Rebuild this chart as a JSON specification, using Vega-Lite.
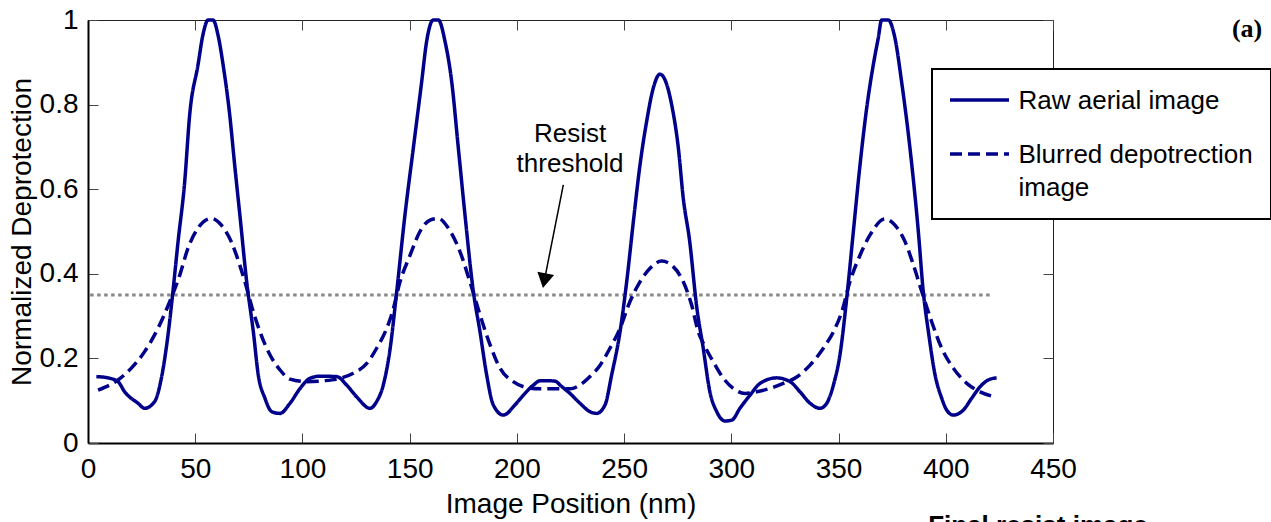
{
  "$schema": "https://vega.github.io/schema/vega-lite/v6.json",
  "width": 965,
  "height": 423,
  "autosize": {"type": "none"},
  "padding": {"left": 88, "top": 20, "right": 218, "bottom": 79},
  "background": "white",
  "config": {
    "view": {"stroke": "#222", "strokeWidth": 1},
    "font": "Liberation Sans",
    "axis": {
      "grid": false,
      "labelFont": "Liberation Sans",
      "labelFontSize": 28,
      "labelColor": "black",
      "labelFlush": false,
      "titleFont": "Liberation Sans",
      "titleFontSize": 28,
      "titleFontWeight": "normal",
      "titleColor": "black",
      "tickColor": "#444",
      "tickWidth": 1,
      "tickSize": -10,
      "domainColor": "black",
      "domainWidth": 2
    },
    "legend": {
      "orient": "none",
      "legendX": 844,
      "legendY": 49,
      "title": null,
      "labelFont": "Liberation Sans",
      "labelFontSize": 26,
      "labelColor": "black",
      "labelLimit": 400,
      "labelOffset": 26,
      "labelBaseline": "alphabetic",
      "symbolType": "M-2.95,0L2.95,0",
      "symbolSize": 400,
      "symbolOffset": 16.5,
      "symbolStrokeWidth": 3.5,
      "symbolStrokeColor": "#00008B",
      "strokeColor": "black",
      "strokeWidth": 2,
      "fillColor": "white",
      "padding": 18,
      "rowPadding": 27,
      "cornerRadius": 0
    }
  },
  "resolve": {"axis": {"x": "independent", "y": "independent"}},
  "layer": [
    {
      "data": {"values": [{}]},
      "mark": {"type": "rule", "color": "#888888", "strokeWidth": 3, "strokeDash": [3.5, 3.5]},
      "encoding": {
        "x": {"datum": 1, "type": "quantitative", "scale": {"domain": [0, 450], "nice": false},
              "axis": {"orient": "top", "labels": false, "title": null, "domain": false, "values": [0, 50, 100, 150, 200, 250, 300, 350, 400, 450]}},
        "x2": {"datum": 421},
        "y": {"datum": 0.35, "type": "quantitative", "scale": {"domain": [0, 1], "nice": false},
              "axis": {"orient": "right", "labels": false, "title": null, "domain": false, "values": [0, 0.2, 0.4, 0.6, 0.8, 1]}}
      }
    },
    {
      "data": {
        "values": [
          {"x": 3.9, "y": 0.157, "series": "Raw aerial image"},
          {"x": 9.3, "y": 0.154, "series": "Raw aerial image"},
          {"x": 14, "y": 0.145, "series": "Raw aerial image"},
          {"x": 17.1, "y": 0.121, "series": "Raw aerial image"},
          {"x": 23.3, "y": 0.094, "series": "Raw aerial image"},
          {"x": 26.4, "y": 0.082, "series": "Raw aerial image"},
          {"x": 31.1, "y": 0.098, "series": "Raw aerial image"},
          {"x": 34.2, "y": 0.153, "series": "Raw aerial image"},
          {"x": 37.3, "y": 0.255, "series": "Raw aerial image"},
          {"x": 39.6, "y": 0.358, "series": "Raw aerial image"},
          {"x": 42, "y": 0.476, "series": "Raw aerial image"},
          {"x": 45.1, "y": 0.618, "series": "Raw aerial image"},
          {"x": 47.4, "y": 0.775, "series": "Raw aerial image"},
          {"x": 51.3, "y": 0.894, "series": "Raw aerial image"},
          {"x": 53.6, "y": 0.965, "series": "Raw aerial image"},
          {"x": 56, "y": 1.0, "series": "Raw aerial image"},
          {"x": 58.3, "y": 1.0, "series": "Raw aerial image"},
          {"x": 60.6, "y": 0.965, "series": "Raw aerial image"},
          {"x": 63, "y": 0.894, "series": "Raw aerial image"},
          {"x": 66.1, "y": 0.775, "series": "Raw aerial image"},
          {"x": 68.4, "y": 0.657, "series": "Raw aerial image"},
          {"x": 71, "y": 0.53, "series": "Raw aerial image"},
          {"x": 74, "y": 0.381, "series": "Raw aerial image"},
          {"x": 77.1, "y": 0.263, "series": "Raw aerial image"},
          {"x": 79.4, "y": 0.161, "series": "Raw aerial image"},
          {"x": 82.5, "y": 0.106, "series": "Raw aerial image"},
          {"x": 85.7, "y": 0.074, "series": "Raw aerial image"},
          {"x": 89.5, "y": 0.07, "series": "Raw aerial image"},
          {"x": 94.2, "y": 0.094, "series": "Raw aerial image"},
          {"x": 98.9, "y": 0.129, "series": "Raw aerial image"},
          {"x": 103.5, "y": 0.153, "series": "Raw aerial image"},
          {"x": 108.2, "y": 0.158, "series": "Raw aerial image"},
          {"x": 116, "y": 0.157, "series": "Raw aerial image"},
          {"x": 120.6, "y": 0.137, "series": "Raw aerial image"},
          {"x": 125.3, "y": 0.109, "series": "Raw aerial image"},
          {"x": 131.5, "y": 0.082, "series": "Raw aerial image"},
          {"x": 134.6, "y": 0.098, "series": "Raw aerial image"},
          {"x": 137.7, "y": 0.137, "series": "Raw aerial image"},
          {"x": 140.8, "y": 0.22, "series": "Raw aerial image"},
          {"x": 144, "y": 0.36, "series": "Raw aerial image"},
          {"x": 147.8, "y": 0.539, "series": "Raw aerial image"},
          {"x": 151.7, "y": 0.697, "series": "Raw aerial image"},
          {"x": 155.6, "y": 0.854, "series": "Raw aerial image"},
          {"x": 157.9, "y": 0.949, "series": "Raw aerial image"},
          {"x": 161, "y": 1.0, "series": "Raw aerial image"},
          {"x": 163.4, "y": 1.0, "series": "Raw aerial image"},
          {"x": 166.5, "y": 0.949, "series": "Raw aerial image"},
          {"x": 169.6, "y": 0.854, "series": "Raw aerial image"},
          {"x": 172.7, "y": 0.697, "series": "Raw aerial image"},
          {"x": 175.8, "y": 0.539, "series": "Raw aerial image"},
          {"x": 179.7, "y": 0.358, "series": "Raw aerial image"},
          {"x": 182.8, "y": 0.263, "series": "Raw aerial image"},
          {"x": 185.9, "y": 0.161, "series": "Raw aerial image"},
          {"x": 189, "y": 0.09, "series": "Raw aerial image"},
          {"x": 193.7, "y": 0.066, "series": "Raw aerial image"},
          {"x": 199.1, "y": 0.09, "series": "Raw aerial image"},
          {"x": 203, "y": 0.113, "series": "Raw aerial image"},
          {"x": 207.7, "y": 0.137, "series": "Raw aerial image"},
          {"x": 210.8, "y": 0.147, "series": "Raw aerial image"},
          {"x": 215.4, "y": 0.147, "series": "Raw aerial image"},
          {"x": 218, "y": 0.146, "series": "Raw aerial image"},
          {"x": 220.1, "y": 0.137, "series": "Raw aerial image"},
          {"x": 224.8, "y": 0.117, "series": "Raw aerial image"},
          {"x": 229.4, "y": 0.094, "series": "Raw aerial image"},
          {"x": 234.1, "y": 0.074, "series": "Raw aerial image"},
          {"x": 237.2, "y": 0.07, "series": "Raw aerial image"},
          {"x": 241.1, "y": 0.09, "series": "Raw aerial image"},
          {"x": 244.2, "y": 0.161, "series": "Raw aerial image"},
          {"x": 248.1, "y": 0.263, "series": "Raw aerial image"},
          {"x": 251.2, "y": 0.381, "series": "Raw aerial image"},
          {"x": 254.3, "y": 0.523, "series": "Raw aerial image"},
          {"x": 257.4, "y": 0.657, "series": "Raw aerial image"},
          {"x": 260.5, "y": 0.76, "series": "Raw aerial image"},
          {"x": 263.6, "y": 0.839, "series": "Raw aerial image"},
          {"x": 266.7, "y": 0.872, "series": "Raw aerial image"},
          {"x": 269.1, "y": 0.858, "series": "Raw aerial image"},
          {"x": 272.2, "y": 0.799, "series": "Raw aerial image"},
          {"x": 275.3, "y": 0.697, "series": "Raw aerial image"},
          {"x": 277.6, "y": 0.578, "series": "Raw aerial image"},
          {"x": 280.5, "y": 0.48, "series": "Raw aerial image"},
          {"x": 283.9, "y": 0.32, "series": "Raw aerial image"},
          {"x": 286.9, "y": 0.224, "series": "Raw aerial image"},
          {"x": 290, "y": 0.121, "series": "Raw aerial image"},
          {"x": 293.2, "y": 0.074, "series": "Raw aerial image"},
          {"x": 297, "y": 0.052, "series": "Raw aerial image"},
          {"x": 300.2, "y": 0.054, "series": "Raw aerial image"},
          {"x": 304, "y": 0.082, "series": "Raw aerial image"},
          {"x": 308.7, "y": 0.113, "series": "Raw aerial image"},
          {"x": 313.4, "y": 0.141, "series": "Raw aerial image"},
          {"x": 321.1, "y": 0.154, "series": "Raw aerial image"},
          {"x": 327.4, "y": 0.145, "series": "Raw aerial image"},
          {"x": 332, "y": 0.121, "series": "Raw aerial image"},
          {"x": 336.7, "y": 0.094, "series": "Raw aerial image"},
          {"x": 341.4, "y": 0.082, "series": "Raw aerial image"},
          {"x": 344.5, "y": 0.094, "series": "Raw aerial image"},
          {"x": 347.6, "y": 0.137, "series": "Raw aerial image"},
          {"x": 350.7, "y": 0.21, "series": "Raw aerial image"},
          {"x": 353.8, "y": 0.342, "series": "Raw aerial image"},
          {"x": 356.9, "y": 0.5, "series": "Raw aerial image"},
          {"x": 360, "y": 0.657, "series": "Raw aerial image"},
          {"x": 363.1, "y": 0.791, "series": "Raw aerial image"},
          {"x": 366.2, "y": 0.894, "series": "Raw aerial image"},
          {"x": 368.5, "y": 0.957, "series": "Raw aerial image"},
          {"x": 370.1, "y": 1.0, "series": "Raw aerial image"},
          {"x": 373.2, "y": 1.0, "series": "Raw aerial image"},
          {"x": 376.3, "y": 0.957, "series": "Raw aerial image"},
          {"x": 379.4, "y": 0.854, "series": "Raw aerial image"},
          {"x": 383.3, "y": 0.697, "series": "Raw aerial image"},
          {"x": 387.2, "y": 0.5, "series": "Raw aerial image"},
          {"x": 389.5, "y": 0.358, "series": "Raw aerial image"},
          {"x": 391.9, "y": 0.263, "series": "Raw aerial image"},
          {"x": 395, "y": 0.161, "series": "Raw aerial image"},
          {"x": 398.1, "y": 0.106, "series": "Raw aerial image"},
          {"x": 400.4, "y": 0.078, "series": "Raw aerial image"},
          {"x": 403.5, "y": 0.066, "series": "Raw aerial image"},
          {"x": 408.2, "y": 0.078, "series": "Raw aerial image"},
          {"x": 412.1, "y": 0.106, "series": "Raw aerial image"},
          {"x": 416, "y": 0.133, "series": "Raw aerial image"},
          {"x": 419.8, "y": 0.149, "series": "Raw aerial image"},
          {"x": 423.7, "y": 0.154, "series": "Raw aerial image"},
          {"x": 4.7, "y": 0.125, "series": "Blurred depotrection image"},
          {"x": 14, "y": 0.149, "series": "Blurred depotrection image"},
          {"x": 20.2, "y": 0.177, "series": "Blurred depotrection image"},
          {"x": 26.4, "y": 0.216, "series": "Blurred depotrection image"},
          {"x": 32.6, "y": 0.271, "series": "Blurred depotrection image"},
          {"x": 38.1, "y": 0.334, "series": "Blurred depotrection image"},
          {"x": 42.8, "y": 0.397, "series": "Blurred depotrection image"},
          {"x": 46.6, "y": 0.46, "series": "Blurred depotrection image"},
          {"x": 51.3, "y": 0.508, "series": "Blurred depotrection image"},
          {"x": 57.5, "y": 0.531, "series": "Blurred depotrection image"},
          {"x": 62.2, "y": 0.515, "series": "Blurred depotrection image"},
          {"x": 66.8, "y": 0.476, "series": "Blurred depotrection image"},
          {"x": 70.8, "y": 0.42, "series": "Blurred depotrection image"},
          {"x": 73.8, "y": 0.37, "series": "Blurred depotrection image"},
          {"x": 76.5, "y": 0.32, "series": "Blurred depotrection image"},
          {"x": 80.2, "y": 0.263, "series": "Blurred depotrection image"},
          {"x": 84.9, "y": 0.208, "series": "Blurred depotrection image"},
          {"x": 89.5, "y": 0.173, "series": "Blurred depotrection image"},
          {"x": 94.2, "y": 0.151, "series": "Blurred depotrection image"},
          {"x": 102, "y": 0.145, "series": "Blurred depotrection image"},
          {"x": 109.7, "y": 0.147, "series": "Blurred depotrection image"},
          {"x": 117.5, "y": 0.153, "series": "Blurred depotrection image"},
          {"x": 123.7, "y": 0.165, "series": "Blurred depotrection image"},
          {"x": 130, "y": 0.188, "series": "Blurred depotrection image"},
          {"x": 134.6, "y": 0.224, "series": "Blurred depotrection image"},
          {"x": 139.3, "y": 0.271, "series": "Blurred depotrection image"},
          {"x": 142, "y": 0.31, "series": "Blurred depotrection image"},
          {"x": 145.5, "y": 0.381, "series": "Blurred depotrection image"},
          {"x": 150.2, "y": 0.444, "series": "Blurred depotrection image"},
          {"x": 154.8, "y": 0.5, "series": "Blurred depotrection image"},
          {"x": 159.5, "y": 0.527, "series": "Blurred depotrection image"},
          {"x": 163.4, "y": 0.531, "series": "Blurred depotrection image"},
          {"x": 168, "y": 0.508, "series": "Blurred depotrection image"},
          {"x": 173.5, "y": 0.452, "series": "Blurred depotrection image"},
          {"x": 178.1, "y": 0.381, "series": "Blurred depotrection image"},
          {"x": 182.8, "y": 0.303, "series": "Blurred depotrection image"},
          {"x": 187.5, "y": 0.232, "series": "Blurred depotrection image"},
          {"x": 192.1, "y": 0.177, "series": "Blurred depotrection image"},
          {"x": 198.3, "y": 0.145, "series": "Blurred depotrection image"},
          {"x": 204.6, "y": 0.131, "series": "Blurred depotrection image"},
          {"x": 210.8, "y": 0.128, "series": "Blurred depotrection image"},
          {"x": 224.8, "y": 0.128, "series": "Blurred depotrection image"},
          {"x": 229.4, "y": 0.137, "series": "Blurred depotrection image"},
          {"x": 234.1, "y": 0.157, "series": "Blurred depotrection image"},
          {"x": 238.8, "y": 0.184, "series": "Blurred depotrection image"},
          {"x": 243.4, "y": 0.224, "series": "Blurred depotrection image"},
          {"x": 248.1, "y": 0.271, "series": "Blurred depotrection image"},
          {"x": 252.7, "y": 0.334, "series": "Blurred depotrection image"},
          {"x": 257.4, "y": 0.381, "series": "Blurred depotrection image"},
          {"x": 262.1, "y": 0.413, "series": "Blurred depotrection image"},
          {"x": 267.5, "y": 0.43, "series": "Blurred depotrection image"},
          {"x": 272.9, "y": 0.417, "series": "Blurred depotrection image"},
          {"x": 277.6, "y": 0.381, "series": "Blurred depotrection image"},
          {"x": 281.5, "y": 0.326, "series": "Blurred depotrection image"},
          {"x": 284.6, "y": 0.263, "series": "Blurred depotrection image"},
          {"x": 287.5, "y": 0.23, "series": "Blurred depotrection image"},
          {"x": 291.6, "y": 0.192, "series": "Blurred depotrection image"},
          {"x": 296.3, "y": 0.153, "series": "Blurred depotrection image"},
          {"x": 300.9, "y": 0.129, "series": "Blurred depotrection image"},
          {"x": 306.4, "y": 0.117, "series": "Blurred depotrection image"},
          {"x": 311.8, "y": 0.121, "series": "Blurred depotrection image"},
          {"x": 318, "y": 0.129, "series": "Blurred depotrection image"},
          {"x": 324.2, "y": 0.141, "series": "Blurred depotrection image"},
          {"x": 330.5, "y": 0.156, "series": "Blurred depotrection image"},
          {"x": 336.7, "y": 0.184, "series": "Blurred depotrection image"},
          {"x": 342.9, "y": 0.224, "series": "Blurred depotrection image"},
          {"x": 347.6, "y": 0.263, "series": "Blurred depotrection image"},
          {"x": 351.5, "y": 0.31, "series": "Blurred depotrection image"},
          {"x": 355.3, "y": 0.381, "series": "Blurred depotrection image"},
          {"x": 360, "y": 0.444, "series": "Blurred depotrection image"},
          {"x": 364.7, "y": 0.492, "series": "Blurred depotrection image"},
          {"x": 371.7, "y": 0.53, "series": "Blurred depotrection image"},
          {"x": 376.3, "y": 0.515, "series": "Blurred depotrection image"},
          {"x": 381, "y": 0.476, "series": "Blurred depotrection image"},
          {"x": 384.9, "y": 0.421, "series": "Blurred depotrection image"},
          {"x": 388.8, "y": 0.358, "series": "Blurred depotrection image"},
          {"x": 393.4, "y": 0.287, "series": "Blurred depotrection image"},
          {"x": 398.1, "y": 0.224, "series": "Blurred depotrection image"},
          {"x": 403.5, "y": 0.177, "series": "Blurred depotrection image"},
          {"x": 409.8, "y": 0.141, "series": "Blurred depotrection image"},
          {"x": 416, "y": 0.121, "series": "Blurred depotrection image"},
          {"x": 423, "y": 0.109, "series": "Blurred depotrection image"}
        ]
      },
      "mark": {"type": "line", "color": "#00008B", "strokeWidth": 3.5, "interpolate": "monotone"},
      "encoding": {
        "x": {"field": "x", "type": "quantitative", "scale": {"domain": [0, 450], "nice": false},
              "axis": {"orient": "bottom", "title": "Image Position (nm)", "values": [0, 50, 100, 150, 200, 250, 300, 350, 400, 450], "labelPadding": 22, "titlePadding": 7}},
        "y": {"field": "y", "type": "quantitative", "scale": {"domain": [0, 1], "nice": false},
              "axis": {"orient": "left", "title": "Normalized Deprotection", "values": [0, 0.2, 0.4, 0.6, 0.8, 1], "format": "~g", "labelPadding": 20, "titlePadding": 3}},
        "strokeDash": {
          "field": "series", "type": "nominal",
          "scale": {"domain": ["Raw aerial image", "Blurred depotrection image"], "range": [[1, 0], [12, 6]]},
          "legend": {
            "labelExpr": "datum.label == 'Blurred depotrection image' ? ['Blurred depotrection', 'image'] : datum.label",
            "encode": {"labels": {"update": {"dy": {"value": 9}, "lineHeight": {"value": 33}}}}
          }
        }
      }
    },
    {
      "data": {"values": [{}]},
      "mark": {"type": "rule", "color": "black", "strokeWidth": 1.5},
      "encoding": {
        "x": {"datum": 221.65, "type": "quantitative", "scale": {"domain": [0, 450], "nice": false}, "axis": null},
        "y": {"datum": 0.61, "type": "quantitative", "scale": {"domain": [0, 1], "nice": false}, "axis": null},
        "x2": {"datum": 212.8},
        "y2": {"datum": 0.384}
      }
    },
    {
      "data": {"values": [{}]},
      "mark": {"type": "point", "shape": "triangle-down", "filled": true, "color": "black", "opacity": 1, "size": 290, "angle": 11},
      "encoding": {
        "x": {"datum": 212.8, "type": "quantitative", "scale": {"domain": [0, 450], "nice": false}, "axis": null},
        "y": {"datum": 0.3837, "type": "quantitative", "scale": {"domain": [0, 1], "nice": false}, "axis": null}
      }
    },
    {
      "data": {"values": [{}]},
      "mark": {"type": "text", "text": ["Resist", "threshold"], "font": "Liberation Sans", "fontSize": 26, "lineHeight": 30, "align": "center", "baseline": "alphabetic", "color": "black"},
      "encoding": {
        "x": {"datum": 224.8, "type": "quantitative", "scale": {"domain": [0, 450], "nice": false}, "axis": null},
        "y": {"datum": 0.7116, "type": "quantitative", "scale": {"domain": [0, 1], "nice": false}, "axis": null}
      }
    },
    {
      "data": {"values": [{}]},
      "mark": {"type": "text", "text": "(a)", "font": "Liberation Serif", "fontWeight": "bold", "fontSize": 26, "align": "center", "baseline": "alphabetic", "color": "black"},
      "encoding": {
        "x": {"datum": 540.5, "type": "quantitative", "scale": {"domain": [0, 450], "nice": false}, "axis": null},
        "y": {"datum": 0.96, "type": "quantitative", "scale": {"domain": [0, 1], "nice": false}, "axis": null}
      }
    },
    {
      "data": {"values": [{}]},
      "mark": {"type": "text", "text": "Final resist image", "font": "Liberation Sans", "fontWeight": "bold", "fontSize": 26, "align": "center", "baseline": "alphabetic", "color": "black"},
      "encoding": {
        "x": {"datum": 443, "type": "quantitative", "scale": {"domain": [0, 450], "nice": false}, "axis": null},
        "y": {"datum": -0.2151, "type": "quantitative", "scale": {"domain": [0, 1], "nice": false}, "axis": null}
      }
    }
  ]
}
